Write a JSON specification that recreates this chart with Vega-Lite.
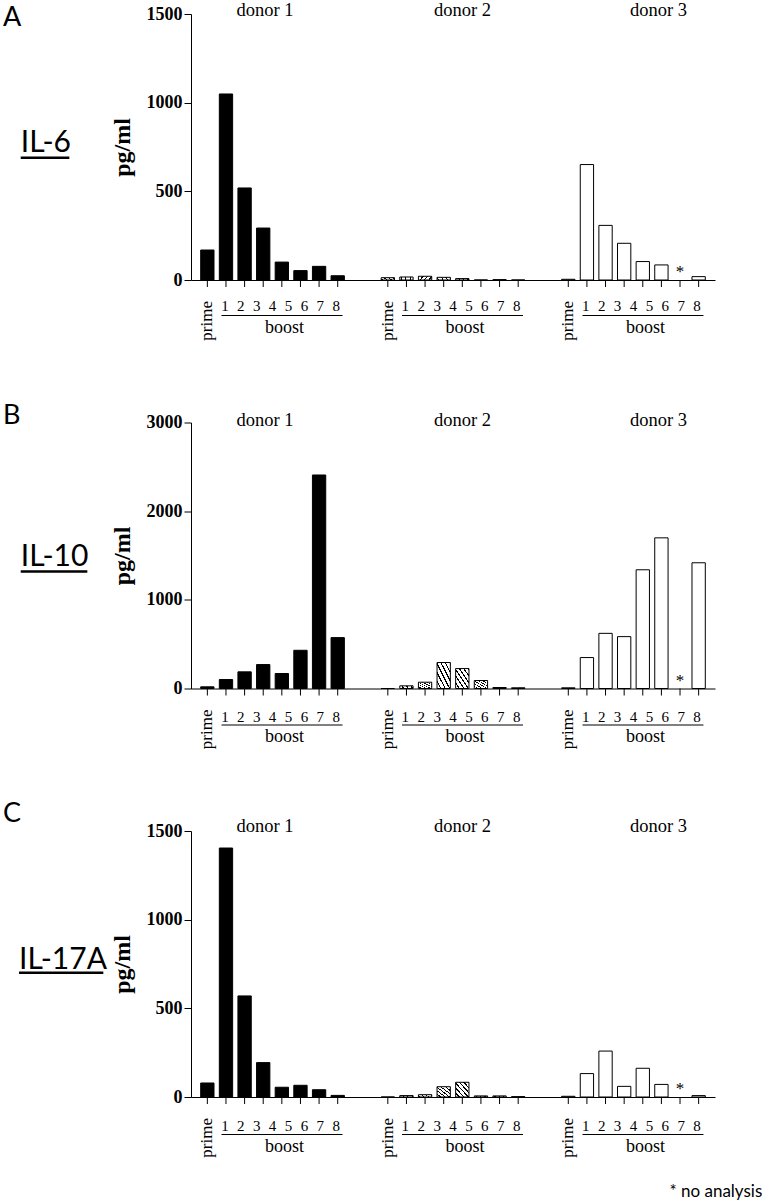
{
  "$schema": "https://vega.github.io/schema/vega-lite/v6.json",
  "background": "white",
  "padding": {"left": 3, "top": 1, "right": 0, "bottom": 0},
  "bounds": "flush",
  "spacing": 142.5,
  "datasets": {
    "il6": [
      {"donor": "donor 1", "time": "prime", "pg_ml": 169},
      {"donor": "donor 1", "time": "1", "pg_ml": 1049},
      {"donor": "donor 1", "time": "2", "pg_ml": 519},
      {"donor": "donor 1", "time": "3", "pg_ml": 293},
      {"donor": "donor 1", "time": "4", "pg_ml": 101},
      {"donor": "donor 1", "time": "5", "pg_ml": 53},
      {"donor": "donor 1", "time": "6", "pg_ml": 77},
      {"donor": "donor 1", "time": "7", "pg_ml": 24},
      {"donor": "donor 2", "time": "prime", "pg_ml": 13},
      {"donor": "donor 2", "time": "1", "pg_ml": 17},
      {"donor": "donor 2", "time": "2", "pg_ml": 21},
      {"donor": "donor 2", "time": "3", "pg_ml": 15},
      {"donor": "donor 2", "time": "4", "pg_ml": 8},
      {"donor": "donor 2", "time": "5", "pg_ml": 0},
      {"donor": "donor 2", "time": "6", "pg_ml": 2},
      {"donor": "donor 2", "time": "7", "pg_ml": 0},
      {"donor": "donor 3", "time": "prime", "pg_ml": 4},
      {"donor": "donor 3", "time": "1", "pg_ml": 651},
      {"donor": "donor 3", "time": "2", "pg_ml": 308},
      {"donor": "donor 3", "time": "3", "pg_ml": 207},
      {"donor": "donor 3", "time": "4", "pg_ml": 104},
      {"donor": "donor 3", "time": "5", "pg_ml": 85},
      {"donor": "donor 3", "time": "6", "pg_ml": null},
      {"donor": "donor 3", "time": "7", "pg_ml": 19}
    ],
    "il10": [
      {"donor": "donor 1", "time": "prime", "pg_ml": 19},
      {"donor": "donor 1", "time": "1", "pg_ml": 101},
      {"donor": "donor 1", "time": "2", "pg_ml": 188},
      {"donor": "donor 1", "time": "3", "pg_ml": 270},
      {"donor": "donor 1", "time": "4", "pg_ml": 169},
      {"donor": "donor 1", "time": "5", "pg_ml": 431},
      {"donor": "donor 1", "time": "6", "pg_ml": 2408},
      {"donor": "donor 1", "time": "7", "pg_ml": 574},
      {"donor": "donor 2", "time": "prime", "pg_ml": 0},
      {"donor": "donor 2", "time": "1", "pg_ml": 30},
      {"donor": "donor 2", "time": "2", "pg_ml": 71},
      {"donor": "donor 2", "time": "3", "pg_ml": 293},
      {"donor": "donor 2", "time": "4", "pg_ml": 225},
      {"donor": "donor 2", "time": "5", "pg_ml": 90},
      {"donor": "donor 2", "time": "6", "pg_ml": 11},
      {"donor": "donor 2", "time": "7", "pg_ml": 8},
      {"donor": "donor 3", "time": "prime", "pg_ml": 8},
      {"donor": "donor 3", "time": "1", "pg_ml": 349},
      {"donor": "donor 3", "time": "2", "pg_ml": 622},
      {"donor": "donor 3", "time": "3", "pg_ml": 585},
      {"donor": "donor 3", "time": "4", "pg_ml": 1339},
      {"donor": "donor 3", "time": "5", "pg_ml": 1699},
      {"donor": "donor 3", "time": "6", "pg_ml": null},
      {"donor": "donor 3", "time": "7", "pg_ml": 1418}
    ],
    "il17a": [
      {"donor": "donor 1", "time": "prime", "pg_ml": 79},
      {"donor": "donor 1", "time": "1", "pg_ml": 1404},
      {"donor": "donor 1", "time": "2", "pg_ml": 570},
      {"donor": "donor 1", "time": "3", "pg_ml": 194},
      {"donor": "donor 1", "time": "4", "pg_ml": 55},
      {"donor": "donor 1", "time": "5", "pg_ml": 66},
      {"donor": "donor 1", "time": "6", "pg_ml": 41},
      {"donor": "donor 1", "time": "7", "pg_ml": 9},
      {"donor": "donor 2", "time": "prime", "pg_ml": 0},
      {"donor": "donor 2", "time": "1", "pg_ml": 8},
      {"donor": "donor 2", "time": "2", "pg_ml": 13},
      {"donor": "donor 2", "time": "3", "pg_ml": 58},
      {"donor": "donor 2", "time": "4", "pg_ml": 83},
      {"donor": "donor 2", "time": "5", "pg_ml": 6},
      {"donor": "donor 2", "time": "6", "pg_ml": 6},
      {"donor": "donor 2", "time": "7", "pg_ml": 2},
      {"donor": "donor 3", "time": "prime", "pg_ml": 4},
      {"donor": "donor 3", "time": "1", "pg_ml": 132},
      {"donor": "donor 3", "time": "2", "pg_ml": 259},
      {"donor": "donor 3", "time": "3", "pg_ml": 60},
      {"donor": "donor 3", "time": "4", "pg_ml": 162},
      {"donor": "donor 3", "time": "5", "pg_ml": 71},
      {"donor": "donor 3", "time": "6", "pg_ml": null},
      {"donor": "donor 3", "time": "7", "pg_ml": 8}
    ],
    "boostLabels": [
      {"donor": "donor 1", "label": "1"}, {"donor": "donor 1", "label": "2"}, {"donor": "donor 1", "label": "3"}, {"donor": "donor 1", "label": "4"},
      {"donor": "donor 1", "label": "5"}, {"donor": "donor 1", "label": "6"}, {"donor": "donor 1", "label": "7"}, {"donor": "donor 1", "label": "8"},
      {"donor": "donor 2", "label": "1"}, {"donor": "donor 2", "label": "2"}, {"donor": "donor 2", "label": "3"}, {"donor": "donor 2", "label": "4"},
      {"donor": "donor 2", "label": "5"}, {"donor": "donor 2", "label": "6"}, {"donor": "donor 2", "label": "7"}, {"donor": "donor 2", "label": "8"},
      {"donor": "donor 3", "label": "1"}, {"donor": "donor 3", "label": "2"}, {"donor": "donor 3", "label": "3"}, {"donor": "donor 3", "label": "4"},
      {"donor": "donor 3", "label": "5"}, {"donor": "donor 3", "label": "6"}, {"donor": "donor 3", "label": "7"}, {"donor": "donor 3", "label": "8"}
    ]
  },
  "vconcat": [
    {
      "width": 524, "height": 266,
      "data": {"name": "il6"},
      "encoding": {
        "x": {"field": "donor", "type": "nominal", "scale": {"domain": ["donor 1", "donor 2", "donor 3"], "paddingInner": 0.1745, "paddingOuter": 0.039},
              "axis": {"title": null, "labels": false, "ticks": false, "domain": true, "tickSize": 0}}
      },
      "layer": [
        {"transform": [{"filter": "datum.donor === 'donor 1'"}],
         "mark": {"type": "bar", "fill": "black", "stroke": "black", "strokeWidth": 1},
         "encoding": {
           "xOffset": {"field": "time", "type": "nominal", "scale": {"domain": ["prime", "1", "2", "3", "4", "5", "6", "7"], "paddingInner": 0.285, "paddingOuter": 0.1425}},
           "y": {"field": "pg_ml", "type": "quantitative", "scale": {"domain": [0, 1500], "nice": false}, "axis": {"values": [0, 500, 1000, 1500], "format": "d", "title": "pg/ml"}}}},
        {"transform": [{"filter": "datum.donor === 'donor 2'"}],
         "mark": {"type": "bar", "stroke": "black", "strokeWidth": 1,
           "fill": {"gradient": "linear", "x1": 0, "y1": 1, "x2": 1, "y2": 0, "stops": [{"offset":0,"color":"#fff"},{"offset":0.1167,"color":"#fff"},{"offset":0.1167,"color":"#000"},{"offset":0.1667,"color":"#000"},{"offset":0.1667,"color":"#fff"},{"offset":0.2833,"color":"#fff"},{"offset":0.2833,"color":"#000"},{"offset":0.3333,"color":"#000"},{"offset":0.3333,"color":"#fff"},{"offset":0.45,"color":"#fff"},{"offset":0.45,"color":"#000"},{"offset":0.5,"color":"#000"},{"offset":0.5,"color":"#fff"},{"offset":0.6167,"color":"#fff"},{"offset":0.6167,"color":"#000"},{"offset":0.6667,"color":"#000"},{"offset":0.6667,"color":"#fff"},{"offset":0.7833,"color":"#fff"},{"offset":0.7833,"color":"#000"},{"offset":0.8333,"color":"#000"},{"offset":0.8333,"color":"#fff"},{"offset":0.95,"color":"#fff"},{"offset":0.95,"color":"#000"},{"offset":1,"color":"#000"}]}},
         "encoding": {
           "xOffset": {"field": "time", "type": "nominal", "scale": {"domain": ["prime", "1", "2", "3", "4", "5", "6", "7"], "paddingInner": 0.285, "paddingOuter": 0.1425}},
           "y": {"field": "pg_ml", "type": "quantitative", "scale": {"domain": [0, 1500], "nice": false}, "axis": {"values": [0, 500, 1000, 1500], "format": "d", "title": "pg/ml"}}}},
        {"transform": [{"filter": "datum.donor === 'donor 3' && datum.pg_ml !== null"}],
         "mark": {"type": "bar", "fill": "white", "stroke": "black", "strokeWidth": 1},
         "encoding": {
           "xOffset": {"field": "time", "type": "nominal", "scale": {"domain": ["prime", "1", "2", "3", "4", "5", "6", "7"], "paddingInner": 0.285, "paddingOuter": 0.1425}},
           "y": {"field": "pg_ml", "type": "quantitative", "scale": {"domain": [0, 1500], "nice": false}, "axis": {"values": [0, 500, 1000, 1500], "format": "d", "title": "pg/ml"}}}},
        {"mark": {"type": "rule", "color": "black", "strokeWidth": 1, "y2Offset": 7},
         "encoding": {
           "xOffset": {"field": "time", "type": "nominal", "scale": {"domain": ["prime", "1", "2", "3", "4", "5", "6", "7"], "paddingInner": 0.285, "paddingOuter": 0.1425}},
           "y": {"datum": 0, "type": "quantitative"},
           "y2": {"datum": 0}}},
        {"transform": [{"filter": "datum.time === 'prime'"}],
         "mark": {"type": "text", "text": "prime", "angle": 270, "align": "right", "baseline": "middle", "fontSize": 17, "yOffset": 21},
         "encoding": {
           "xOffset": {"field": "time", "type": "nominal", "scale": {"domain": ["prime", "1", "2", "3", "4", "5", "6", "7"], "paddingInner": 0.285, "paddingOuter": 0.1425}},
           "y": {"datum": 0, "type": "quantitative"}}},
        {"transform": [{"filter": "datum.pg_ml === null"}],
         "mark": {"type": "text", "text": "*", "align": "center", "baseline": "middle", "fontSize": 17, "yOffset": -8},
         "encoding": {
           "xOffset": {"field": "time", "type": "nominal", "scale": {"domain": ["prime", "1", "2", "3", "4", "5", "6", "7"], "paddingInner": 0.285, "paddingOuter": 0.1425}},
           "y": {"datum": 0, "type": "quantitative"}}},
        {"data": {"name": "boostLabels"},
         "mark": {"type": "text", "align": "center", "baseline": "alphabetic", "fontSize": 15, "yOffset": 31,
           "dx": {"expr": "(toNumber(datum.label) - 4.5) * 15.9 + 8"}},
         "encoding": {"y": {"datum": 0, "type": "quantitative"}, "text": {"field": "label"}}},
        {"transform": [{"filter": "datum.time === 'prime'"}],
         "mark": {"type": "text", "text": "boost", "align": "center", "baseline": "alphabetic", "fontSize": 18, "dx": 12, "yOffset": 52.5},
         "encoding": {"y": {"datum": 0, "type": "quantitative"}}},
        {"transform": [{"filter": "datum.time === 'prime'"}],
         "mark": {"type": "rule", "color": "black", "strokeWidth": 1, "xOffset": -51, "x2Offset": 70, "yOffset": 35.5},
         "encoding": {"x2": {"field": "donor"}, "y": {"datum": 0, "type": "quantitative"}}},
        {"transform": [{"filter": "datum.time === 'prime'"}],
         "mark": {"type": "text", "align": "center", "baseline": "alphabetic", "fontSize": 18.5, "yOffset": 2,
           "dx": {"expr": "datum.donor === 'donor 1' ? -7.5 : datum.donor === 'donor 2' ? 9.5 : 25"}},
         "encoding": {"y": {"datum": 1500, "type": "quantitative"}, "text": {"field": "donor"}}},
        {"transform": [{"filter": "datum.time === 'prime' && datum.donor === 'donor 1'"}],
         "mark": {"type": "text", "text": "A", "font": "Lato", "fontSize": 27, "align": "left", "baseline": "alphabetic", "dx": -269.5, "yOffset": 11.7},
         "encoding": {"y": {"datum": 1500, "type": "quantitative"}}},
        {"transform": [{"filter": "datum.time === 'prime' && datum.donor === 'donor 1'"}],
         "mark": {"type": "text", "text": "IL-6", "font": "Lato", "fontSize": 30, "align": "left", "baseline": "alphabetic", "dx": -251.8},
         "encoding": {"y": {"datum": 720, "type": "quantitative"}}},
        {"transform": [{"filter": "datum.time === 'prime' && datum.donor === 'donor 1'"}],
         "mark": {"type": "rule", "color": "black", "strokeWidth": 2.5, "xOffset": -251.8, "x2Offset": -203.2, "yOffset": 5.5},
         "encoding": {"x2": {"field": "donor"}, "y": {"datum": 720, "type": "quantitative"}}}
      ]
    },
    {
      "width": 524, "height": 266,
      "data": {"name": "il10"},
      "encoding": {
        "x": {"field": "donor", "type": "nominal", "scale": {"domain": ["donor 1", "donor 2", "donor 3"], "paddingInner": 0.1745, "paddingOuter": 0.039},
              "axis": {"title": null, "labels": false, "ticks": false, "domain": true, "tickSize": 0}}
      },
      "layer": [
        {"transform": [{"filter": "datum.donor === 'donor 1'"}],
         "mark": {"type": "bar", "fill": "black", "stroke": "black", "strokeWidth": 1},
         "encoding": {
           "xOffset": {"field": "time", "type": "nominal", "scale": {"domain": ["prime", "1", "2", "3", "4", "5", "6", "7"], "paddingInner": 0.285, "paddingOuter": 0.1425}},
           "y": {"field": "pg_ml", "type": "quantitative", "scale": {"domain": [0, 3000], "nice": false}, "axis": {"values": [0, 1000, 2000, 3000], "format": "d", "title": "pg/ml"}}}},
        {"transform": [{"filter": "datum.donor === 'donor 2'"}],
         "mark": {"type": "bar", "stroke": "black", "strokeWidth": 1,
           "fill": {"gradient": "linear", "x1": 0, "y1": 1, "x2": 1, "y2": 0, "stops": [{"offset":0,"color":"#fff"},{"offset":0.1167,"color":"#fff"},{"offset":0.1167,"color":"#000"},{"offset":0.1667,"color":"#000"},{"offset":0.1667,"color":"#fff"},{"offset":0.2833,"color":"#fff"},{"offset":0.2833,"color":"#000"},{"offset":0.3333,"color":"#000"},{"offset":0.3333,"color":"#fff"},{"offset":0.45,"color":"#fff"},{"offset":0.45,"color":"#000"},{"offset":0.5,"color":"#000"},{"offset":0.5,"color":"#fff"},{"offset":0.6167,"color":"#fff"},{"offset":0.6167,"color":"#000"},{"offset":0.6667,"color":"#000"},{"offset":0.6667,"color":"#fff"},{"offset":0.7833,"color":"#fff"},{"offset":0.7833,"color":"#000"},{"offset":0.8333,"color":"#000"},{"offset":0.8333,"color":"#fff"},{"offset":0.95,"color":"#fff"},{"offset":0.95,"color":"#000"},{"offset":1,"color":"#000"}]}},
         "encoding": {
           "xOffset": {"field": "time", "type": "nominal", "scale": {"domain": ["prime", "1", "2", "3", "4", "5", "6", "7"], "paddingInner": 0.285, "paddingOuter": 0.1425}},
           "y": {"field": "pg_ml", "type": "quantitative", "scale": {"domain": [0, 3000], "nice": false}, "axis": {"values": [0, 1000, 2000, 3000], "format": "d", "title": "pg/ml"}}}},
        {"transform": [{"filter": "datum.donor === 'donor 3' && datum.pg_ml !== null"}],
         "mark": {"type": "bar", "fill": "white", "stroke": "black", "strokeWidth": 1},
         "encoding": {
           "xOffset": {"field": "time", "type": "nominal", "scale": {"domain": ["prime", "1", "2", "3", "4", "5", "6", "7"], "paddingInner": 0.285, "paddingOuter": 0.1425}},
           "y": {"field": "pg_ml", "type": "quantitative", "scale": {"domain": [0, 3000], "nice": false}, "axis": {"values": [0, 1000, 2000, 3000], "format": "d", "title": "pg/ml"}}}},
        {"mark": {"type": "rule", "color": "black", "strokeWidth": 1, "y2Offset": 7},
         "encoding": {
           "xOffset": {"field": "time", "type": "nominal", "scale": {"domain": ["prime", "1", "2", "3", "4", "5", "6", "7"], "paddingInner": 0.285, "paddingOuter": 0.1425}},
           "y": {"datum": 0, "type": "quantitative"},
           "y2": {"datum": 0}}},
        {"transform": [{"filter": "datum.time === 'prime'"}],
         "mark": {"type": "text", "text": "prime", "angle": 270, "align": "right", "baseline": "middle", "fontSize": 17, "yOffset": 21},
         "encoding": {
           "xOffset": {"field": "time", "type": "nominal", "scale": {"domain": ["prime", "1", "2", "3", "4", "5", "6", "7"], "paddingInner": 0.285, "paddingOuter": 0.1425}},
           "y": {"datum": 0, "type": "quantitative"}}},
        {"transform": [{"filter": "datum.pg_ml === null"}],
         "mark": {"type": "text", "text": "*", "align": "center", "baseline": "middle", "fontSize": 17, "yOffset": -8},
         "encoding": {
           "xOffset": {"field": "time", "type": "nominal", "scale": {"domain": ["prime", "1", "2", "3", "4", "5", "6", "7"], "paddingInner": 0.285, "paddingOuter": 0.1425}},
           "y": {"datum": 0, "type": "quantitative"}}},
        {"data": {"name": "boostLabels"},
         "mark": {"type": "text", "align": "center", "baseline": "alphabetic", "fontSize": 15, "yOffset": 33,
           "dx": {"expr": "(toNumber(datum.label) - 4.5) * 15.9 + 8"}},
         "encoding": {"y": {"datum": 0, "type": "quantitative"}, "text": {"field": "label"}}},
        {"transform": [{"filter": "datum.time === 'prime'"}],
         "mark": {"type": "text", "text": "boost", "align": "center", "baseline": "alphabetic", "fontSize": 18, "dx": 12, "yOffset": 53.5},
         "encoding": {"y": {"datum": 0, "type": "quantitative"}}},
        {"transform": [{"filter": "datum.time === 'prime'"}],
         "mark": {"type": "rule", "color": "black", "strokeWidth": 1, "xOffset": -51, "x2Offset": 70, "yOffset": 36.5},
         "encoding": {"x2": {"field": "donor"}, "y": {"datum": 0, "type": "quantitative"}}},
        {"transform": [{"filter": "datum.time === 'prime'"}],
         "mark": {"type": "text", "align": "center", "baseline": "alphabetic", "fontSize": 18.5, "yOffset": 3.5,
           "dx": {"expr": "datum.donor === 'donor 1' ? -7.5 : datum.donor === 'donor 2' ? 9.5 : 25"}},
         "encoding": {"y": {"datum": 3000, "type": "quantitative"}, "text": {"field": "donor"}}},
        {"transform": [{"filter": "datum.time === 'prime' && datum.donor === 'donor 1'"}],
         "mark": {"type": "text", "text": "B", "font": "Lato", "fontSize": 27, "align": "left", "baseline": "alphabetic", "dx": -269.5, "yOffset": 1.7},
         "encoding": {"y": {"datum": 3000, "type": "quantitative"}}},
        {"transform": [{"filter": "datum.time === 'prime' && datum.donor === 'donor 1'"}],
         "mark": {"type": "text", "text": "IL-10", "font": "Lato", "fontSize": 30, "align": "left", "baseline": "alphabetic", "dx": -251.8},
         "encoding": {"y": {"datum": 1387, "type": "quantitative"}}},
        {"transform": [{"filter": "datum.time === 'prime' && datum.donor === 'donor 1'"}],
         "mark": {"type": "rule", "color": "black", "strokeWidth": 2.5, "xOffset": -251.8, "x2Offset": -185.2, "yOffset": 6},
         "encoding": {"x2": {"field": "donor"}, "y": {"datum": 1387, "type": "quantitative"}}}
      ]
    },
    {
      "width": 524, "height": 266,
      "data": {"name": "il17a"},
      "encoding": {
        "x": {"field": "donor", "type": "nominal", "scale": {"domain": ["donor 1", "donor 2", "donor 3"], "paddingInner": 0.1745, "paddingOuter": 0.039},
              "axis": {"title": null, "labels": false, "ticks": false, "domain": true, "tickSize": 0}}
      },
      "layer": [
        {"transform": [{"filter": "datum.donor === 'donor 1'"}],
         "mark": {"type": "bar", "fill": "black", "stroke": "black", "strokeWidth": 1},
         "encoding": {
           "xOffset": {"field": "time", "type": "nominal", "scale": {"domain": ["prime", "1", "2", "3", "4", "5", "6", "7"], "paddingInner": 0.285, "paddingOuter": 0.1425}},
           "y": {"field": "pg_ml", "type": "quantitative", "scale": {"domain": [0, 1500], "nice": false}, "axis": {"values": [0, 500, 1000, 1500], "format": "d", "title": "pg/ml"}}}},
        {"transform": [{"filter": "datum.donor === 'donor 2'"}],
         "mark": {"type": "bar", "stroke": "black", "strokeWidth": 1,
           "fill": {"gradient": "linear", "x1": 0, "y1": 1, "x2": 1, "y2": 0, "stops": [{"offset":0,"color":"#fff"},{"offset":0.1167,"color":"#fff"},{"offset":0.1167,"color":"#000"},{"offset":0.1667,"color":"#000"},{"offset":0.1667,"color":"#fff"},{"offset":0.2833,"color":"#fff"},{"offset":0.2833,"color":"#000"},{"offset":0.3333,"color":"#000"},{"offset":0.3333,"color":"#fff"},{"offset":0.45,"color":"#fff"},{"offset":0.45,"color":"#000"},{"offset":0.5,"color":"#000"},{"offset":0.5,"color":"#fff"},{"offset":0.6167,"color":"#fff"},{"offset":0.6167,"color":"#000"},{"offset":0.6667,"color":"#000"},{"offset":0.6667,"color":"#fff"},{"offset":0.7833,"color":"#fff"},{"offset":0.7833,"color":"#000"},{"offset":0.8333,"color":"#000"},{"offset":0.8333,"color":"#fff"},{"offset":0.95,"color":"#fff"},{"offset":0.95,"color":"#000"},{"offset":1,"color":"#000"}]}},
         "encoding": {
           "xOffset": {"field": "time", "type": "nominal", "scale": {"domain": ["prime", "1", "2", "3", "4", "5", "6", "7"], "paddingInner": 0.285, "paddingOuter": 0.1425}},
           "y": {"field": "pg_ml", "type": "quantitative", "scale": {"domain": [0, 1500], "nice": false}, "axis": {"values": [0, 500, 1000, 1500], "format": "d", "title": "pg/ml"}}}},
        {"transform": [{"filter": "datum.donor === 'donor 3' && datum.pg_ml !== null"}],
         "mark": {"type": "bar", "fill": "white", "stroke": "black", "strokeWidth": 1},
         "encoding": {
           "xOffset": {"field": "time", "type": "nominal", "scale": {"domain": ["prime", "1", "2", "3", "4", "5", "6", "7"], "paddingInner": 0.285, "paddingOuter": 0.1425}},
           "y": {"field": "pg_ml", "type": "quantitative", "scale": {"domain": [0, 1500], "nice": false}, "axis": {"values": [0, 500, 1000, 1500], "format": "d", "title": "pg/ml"}}}},
        {"mark": {"type": "rule", "color": "black", "strokeWidth": 1, "y2Offset": 7},
         "encoding": {
           "xOffset": {"field": "time", "type": "nominal", "scale": {"domain": ["prime", "1", "2", "3", "4", "5", "6", "7"], "paddingInner": 0.285, "paddingOuter": 0.1425}},
           "y": {"datum": 0, "type": "quantitative"},
           "y2": {"datum": 0}}},
        {"transform": [{"filter": "datum.time === 'prime'"}],
         "mark": {"type": "text", "text": "prime", "angle": 270, "align": "right", "baseline": "middle", "fontSize": 17, "yOffset": 21},
         "encoding": {
           "xOffset": {"field": "time", "type": "nominal", "scale": {"domain": ["prime", "1", "2", "3", "4", "5", "6", "7"], "paddingInner": 0.285, "paddingOuter": 0.1425}},
           "y": {"datum": 0, "type": "quantitative"}}},
        {"transform": [{"filter": "datum.pg_ml === null"}],
         "mark": {"type": "text", "text": "*", "align": "center", "baseline": "middle", "fontSize": 17, "yOffset": -8},
         "encoding": {
           "xOffset": {"field": "time", "type": "nominal", "scale": {"domain": ["prime", "1", "2", "3", "4", "5", "6", "7"], "paddingInner": 0.285, "paddingOuter": 0.1425}},
           "y": {"datum": 0, "type": "quantitative"}}},
        {"data": {"name": "boostLabels"},
         "mark": {"type": "text", "align": "center", "baseline": "alphabetic", "fontSize": 15, "yOffset": 33.5,
           "dx": {"expr": "(toNumber(datum.label) - 4.5) * 15.9 + 8"}},
         "encoding": {"y": {"datum": 0, "type": "quantitative"}, "text": {"field": "label"}}},
        {"transform": [{"filter": "datum.time === 'prime'"}],
         "mark": {"type": "text", "text": "boost", "align": "center", "baseline": "alphabetic", "fontSize": 18, "dx": 12, "yOffset": 54.5},
         "encoding": {"y": {"datum": 0, "type": "quantitative"}}},
        {"transform": [{"filter": "datum.time === 'prime'"}],
         "mark": {"type": "rule", "color": "black", "strokeWidth": 1, "xOffset": -51, "x2Offset": 70, "yOffset": 37.5},
         "encoding": {"x2": {"field": "donor"}, "y": {"datum": 0, "type": "quantitative"}}},
        {"transform": [{"filter": "datum.time === 'prime'"}],
         "mark": {"type": "text", "align": "center", "baseline": "alphabetic", "fontSize": 18.5, "yOffset": 1,
           "dx": {"expr": "datum.donor === 'donor 1' ? -7.5 : datum.donor === 'donor 2' ? 9.5 : 25"}},
         "encoding": {"y": {"datum": 1500, "type": "quantitative"}, "text": {"field": "donor"}}},
        {"transform": [{"filter": "datum.time === 'prime' && datum.donor === 'donor 1'"}],
         "mark": {"type": "text", "text": "C", "font": "Lato", "fontSize": 27, "align": "left", "baseline": "alphabetic", "dx": -269.5, "yOffset": -9},
         "encoding": {"y": {"datum": 1500, "type": "quantitative"}}},
        {"transform": [{"filter": "datum.time === 'prime' && datum.donor === 'donor 1'"}],
         "mark": {"type": "text", "text": "IL-17A", "font": "Lato", "fontSize": 30, "align": "left", "baseline": "alphabetic", "dx": -253.5},
         "encoding": {"y": {"datum": 723, "type": "quantitative"}}},
        {"transform": [{"filter": "datum.time === 'prime' && datum.donor === 'donor 1'"}],
         "mark": {"type": "rule", "color": "black", "strokeWidth": 2.5, "xOffset": -253.5, "x2Offset": -169.2, "yOffset": 4},
         "encoding": {"x2": {"field": "donor"}, "y": {"datum": 723, "type": "quantitative"}}},
        {"transform": [{"filter": "datum.time === 'prime' && datum.donor === 'donor 3'"}],
         "mark": {"type": "text", "text": "* no analysis", "font": "Lato", "fontSize": 17, "align": "right", "baseline": "middle", "dx": 128.8, "yOffset": 95},
         "encoding": {"y": {"datum": 0, "type": "quantitative"}}}
      ]
    }
  ],
  "config": {
    "view": {"stroke": null},
    "text": {"font": "Liberation Serif", "color": "black"},
    "axis": {"grid": false, "domainColor": "black", "tickColor": "black", "labelColor": "black", "titleColor": "black"},
    "axisY": {"tickSize": 7, "labelPadding": 2, "labelFont": "Liberation Serif", "labelFontWeight": "bold", "labelFontSize": 18, "titleFont": "Liberation Serif", "titleFontWeight": "bold", "titleFontSize": 24, "titlePadding": 12}
  }
}
